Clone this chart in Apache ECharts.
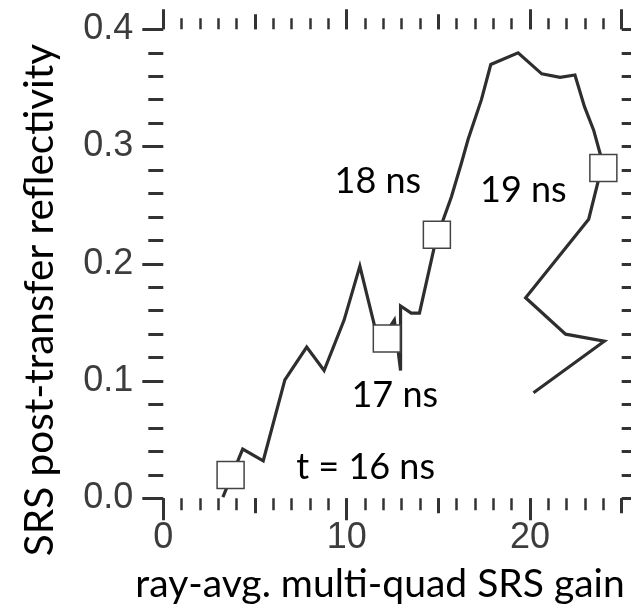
<!DOCTYPE html>
<html>
<head>
<meta charset="utf-8">
<script src="https://cdn.jsdelivr.net/npm/echarts@6/dist/echarts.min.js"></script>
<style>
  html, body { margin: 0; padding: 0; background: #fff; }
  #chart { width: 631px; height: 615px; }
</style>
</head>
<body>
<div id="chart"></div>
<script>
// Gain / reflectivity trajectory (time runs along the curve)
const gain = [3.25, 4.33, 5.45, 6.63, 7.82, 8.77, 9.86, 10.72, 11.76, 12.60, 12.94, 12.94,
  13.52, 13.97, 14.76, 15.25, 15.71, 16.26, 16.62, 17.35, 17.86, 19.35, 20.64, 21.64,
  22.45, 22.97, 23.47, 23.84, 23.71, 23.20, 19.76, 21.94, 24.05, 20.19];
const reflectivity = [0.001, 0.042, 0.032, 0.101, 0.129, 0.109, 0.152, 0.198, 0.132, 0.152, 0.109, 0.164,
  0.158, 0.158, 0.213, 0.237, 0.257, 0.286, 0.306, 0.340, 0.370, 0.380, 0.362, 0.359,
  0.361, 0.334, 0.314, 0.293, 0.270, 0.238, 0.171, 0.140, 0.134, 0.090];

// Time stamps marked with open squares
const markerGain = [3.67, 12.19, 14.92, 24.0];
const markerRefl = [0.0199, 0.1362, 0.2248, 0.2817];
const markerText = ['t = 16 ns', '17 ns', '18 ns', '19 ns'];

// Axis ranges, labelled ticks and titles
const xRange = [0, 25];
const yRange = [0, 0.4];
const xLabelValues = [0, 10, 20];
const xTitle = 'ray-avg. multi-quad SRS gain';
const yTitle = 'SRS post-transfer reflectivity';

const INK = '#333333';
const LABEL_INK = '#3c3c3c';
const TEXT_FONT = 'Lato, "Open Sans", sans-serif';
const NUM_FONT = '"Liberation Sans", Arial, sans-serif';

// One tick-only axis; several are stacked per side to get long, medium and short ticks
function tickAxis(position, interval, len, width, extra) {
  const horizontal = position === 'top' || position === 'bottom';
  const range = horizontal ? xRange : yRange;
  return Object.assign({
    type: 'value',
    position: position,
    min: range[0],
    max: range[1],
    interval: interval,
    axisLine: { show: false, onZero: false },
    splitLine: { show: false },
    axisTick: { show: true, inside: false, length: len, lineStyle: { color: INK, width: width } },
    axisLabel: { show: false }
  }, extra || {});
}

const xAxes = [
  tickAxis('bottom', 10, 22, 3, {
    axisTick: { show: true, customValues: xLabelValues, length: 22, lineStyle: { color: INK, width: 3 } },
    axisLabel: {
      show: true, customValues: xLabelValues, margin: 22,
      fontSize: 36, fontFamily: NUM_FONT, color: LABEL_INK
    }
  }),
  tickAxis('bottom', 5, 15, 3),
  tickAxis('bottom', 1, 12, 2.5),
  tickAxis('top', 10, 20, 3),
  tickAxis('top', 5, 15, 3),
  tickAxis('top', 1, 11, 2.5)
];

const yAxes = [
  tickAxis('left', 0.1, 21, 3, {
    axisLabel: {
      show: true, margin: 30,
      fontSize: 36, fontFamily: NUM_FONT, color: LABEL_INK,
      formatter: function (v) { return v.toFixed(1); }
    }
  }),
  tickAxis('left', 0.02, 15, 3),
  tickAxis('right', 0.1, 15, 3),
  tickAxis('right', 0.02, 12, 3)
];

// Label offsets for each time stamp (pixels from its square)
const labelOffsets = [[135, -8], [8, 57], [-59, -53], [-80, 22]];

const chart = echarts.init(document.getElementById('chart'));
chart.setOption({
  animation: false,
  grid: { left: 163.3, right: 9.3, top: 29.3, bottom: 116.7, outerBoundsMode: 'none' },
  xAxis: xAxes,
  yAxis: yAxes,
  graphic: [
    {
      type: 'text',
      x: 380,
      y: 584,
      style: {
        text: xTitle, fontSize: 39, fontFamily: TEXT_FONT, fill: '#000',
        align: 'center', verticalAlign: 'middle'
      }
    },
    {
      type: 'text',
      x: 40,
      y: 300,
      rotation: Math.PI / 2,
      style: {
        text: yTitle, fontSize: 40.5, fontFamily: TEXT_FONT, fill: '#000',
        align: 'center', verticalAlign: 'middle'
      }
    }
  ],
  series: [
    {
      type: 'line',
      xAxisIndex: 0,
      yAxisIndex: 0,
      data: gain.map(function (g, i) { return [g, reflectivity[i]]; }),
      showSymbol: false,
      symbol: 'none',
      lineStyle: { color: '#2e2e2e', width: 3.2, join: 'miter' },
      z: 2
    },
    {
      type: 'scatter',
      xAxisIndex: 0,
      yAxisIndex: 0,
      symbol: 'rect',
      symbolSize: 27,
      itemStyle: { color: '#ffffff', borderColor: '#444444', borderWidth: 1.5, opacity: 1 },
      data: markerGain.map(function (g, i) {
        return {
          value: [g, markerRefl[i]],
          label: {
            show: true,
            formatter: markerText[i],
            position: 'inside',
            offset: labelOffsets[i],
            fontSize: 36,
            fontFamily: TEXT_FONT,
            color: '#000'
          }
        };
      }),
      z: 3
    }
  ]
});
</script>
</body>
</html>
